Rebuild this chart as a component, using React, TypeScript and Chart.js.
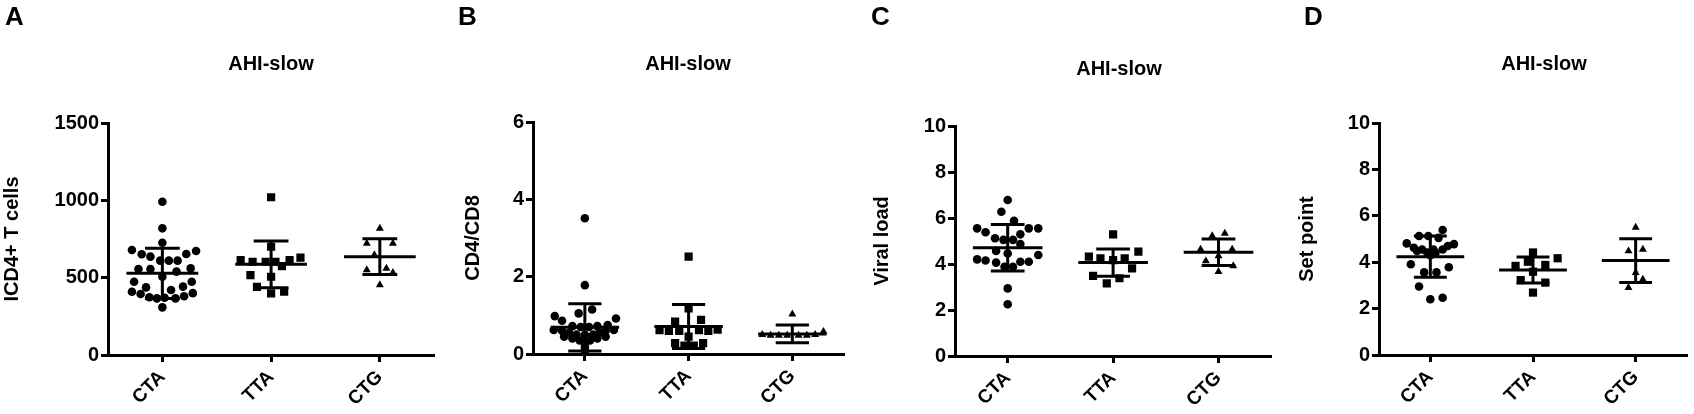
import React, { useEffect, useRef } from 'react';
import { Chart, registerables } from 'chart.js';

Chart.register(...registerables);

const categories = ['CTA', 'TTA', 'CTG'];
const panelTitle = 'AHI-slow';

// A: ICD4+ T cells
const aCtaValues = [991, 819, 726, 679, 672, 651, 636, 653, 610, 610, 610, 556, 556, 539, 560, 506, 474, 442, 474, 420, 437, 409, 394, 373, 366, 370, 366, 380, 400, 308];
const aCtaSpread = [0, 0, 0, -0.28, 0.31, -0.19, -0.11, 0.22, -0.02, 0.06, 0.14, -0.22, -0.11, 0.13, 0.26, 0, -0.26, 0.19, 0.27, 0.08, -0.15, -0.28, -0.2, -0.12, -0.05, 0.02, 0.12, 0.2, 0.28, 0];
const aTtaValues = [1020, 700, 614, 603, 603, 603, 614, 629, 575, 506, 517, 441, 399, 409];
const aTtaSpread = [0, 0, -0.28, -0.17, -0.05, 0.04, 0.17, 0.27, 0.1, 0, -0.19, -0.13, 0, 0.12];
const aCtgValues = [819, 722, 722, 647, 550, 560, 532, 453];
const aCtgSpread = [0, -0.12, 0.12, -0.05, -0.12, 0.06, 0.12, 0];
const aMeans = [528, 586, 636];
const aSds = [162, 151, 116];

// B: CD4/CD8
const bCtaValues = [3.51, 1.78, 1.15, 1.05, 0.98, 0.92, 0.86, 0.75, 0.72, 0.7, 0.7, 0.72, 0.62, 0.6, 0.62, 0.6, 0.55, 0.55, 0.5, 0.5, 0.5, 0.45, 0.45, 0.4, 0.4, 0.35, 0.35, 0.28, 0.18, 0.08];
const bCtaSpread = [0, 0, 0.07, -0.06, -0.29, 0.3, -0.22, 0.22, -0.12, -0.04, 0.04, 0.12, -0.3, -0.22, 0.28, 0.2, -0.15, 0.14, -0.08, 0, 0.08, -0.2, 0.2, -0.12, 0.12, -0.05, 0.05, 0, 0, 0];
const bTtaValues = [2.52, 1.18, 0.88, 0.84, 0.62, 0.6, 0.6, 0.62, 0.6, 0.63, 0.45, 0.28, 0.22, 0.22, 0.28];
const bTtaSpread = [0, 0, 0.12, -0.13, -0.28, -0.19, -0.09, 0.1, 0.19, 0.28, 0, -0.13, -0.04, 0.05, 0.14];
const bCtgValues = [1.03, 0.5, 0.48, 0.48, 0.48, 0.48, 0.48, 0.5, 0.58];
const bCtgSpread = [0, -0.29, -0.21, -0.13, -0.05, 0.06, 0.14, 0.22, 0.3];
const bMeans = [0.69, 0.71, 0.52];
const bSds = [0.61, 0.57, 0.23];

// C: Viral load
const cCtaValues = [6.78, 6.27, 5.88, 5.55, 5.55, 5.55, 5.38, 5.12, 5.05, 5.05, 5.29, 4.87, 4.57, 4.46, 4.39, 4.2, 4.15, 4.06, 4.1, 4.1, 3.88, 3.88, 2.94, 2.25];
const cCtaSpread = [0, -0.06, 0.06, -0.29, 0.2, 0.29, -0.21, -0.12, -0.04, 0.05, 0.12, 0.12, -0.11, 0, 0.29, -0.29, -0.21, -0.11, 0.12, 0.2, -0.03, 0.05, 0, 0];
const cTtaValues = [5.29, 4.54, 4.32, 4.25, 4.17, 4.25, 3.81, 3.48, 3.16, 3.38];
const cTtaSpread = [0, 0.24, -0.23, -0.12, 0, 0.11, 0.18, -0.19, -0.06, 0.06];
const cCtgValues = [5.33, 5.22, 4.64, 4.64, 4.35, 4.13, 3.92, 3.67];
const cCtgSpread = [0.06, -0.06, -0.17, 0.13, 0, -0.12, 0.14, 0];
const cMeans = [4.71, 4.06, 4.51];
const cSds = [1.01, 0.59, 0.58];

// D: Set point
const dCtaValues = [5.39, 5.13, 5.13, 5.05, 4.81, 4.78, 4.62, 4.55, 4.55, 4.55, 4.7, 4.42, 4.4, 4.48, 4.3, 3.91, 3.78, 3.56, 3.56, 2.95, 2.4, 2.47];
const dCtaSpread = [0.12, -0.11, -0.02, 0.08, -0.23, 0.23, -0.16, -0.08, 0.03, 0.12, 0.17, -0.03, 0.05, -0.13, 0, -0.19, 0.18, -0.06, 0.06, -0.11, 0, 0.12];
const dTtaValues = [4.42, 4.17, 4.02, 3.84, 3.88, 3.59, 3.23, 3.12, 2.69];
const dTtaSpread = [0, 0.24, -0.05, -0.17, 0.12, 0, -0.12, 0.12, 0];
const dCtgValues = [5.5, 4.48, 4.55, 3.55, 3.26, 2.9];
const dCtgSpread = [0, -0.07, 0.07, 0, 0.07, -0.07];
const dMeans = [4.24, 3.66, 4.07];
const dSds = [0.89, 0.56, 0.94];

const FONT = "'Liberation Sans', Arial, sans-serif";
const INK = '#000';
const pointStyles = ['circle', 'rect', 'triangle'];
const pointRadii = [4.3, 5.8, 4.6];

interface PanelSpec {
  letter: string;
  yTitle: string;
  yMax: number;
  yStep: number;
  values: number[][];
  spread: number[][];
  means: number[];
  sds: number[];
  left: number;
  width: number;
  padLeft: number;
  padRight: number;
  padTop: number;
  yWidth: number;
  xHeight: number;
  letterX: number;
  titleX: number;
  titleY: number;
}

const panels: PanelSpec[] = [
  {
    letter: 'A', yTitle: 'ICD4+ T cells', yMax: 1500, yStep: 500,
    values: [aCtaValues, aTtaValues, aCtgValues], spread: [aCtaSpread, aTtaSpread, aCtgSpread],
    means: aMeans, sds: aSds,
    left: 0, width: 440, padLeft: 0, padRight: 5, padTop: 123, yWidth: 108, xHeight: 59,
    letterX: 5, titleX: 271, titleY: 70,
  },
  {
    letter: 'B', yTitle: 'CD4/CD8', yMax: 6, yStep: 2,
    values: [bCtaValues, bTtaValues, bCtgValues], spread: [bCtaSpread, bTtaSpread, bCtgSpread],
    means: bMeans, sds: bSds,
    left: 420, width: 430, padLeft: 41, padRight: 5, padTop: 122, yWidth: 72, xHeight: 60,
    letterX: 458, titleX: 688, titleY: 70,
  },
  {
    letter: 'C', yTitle: 'Viral load', yMax: 10, yStep: 2,
    values: [cCtaValues, cTtaValues, cCtgValues], spread: [cCtaSpread, cTtaSpread, cCtgSpread],
    means: cMeans, sds: cSds,
    left: 840, width: 437, padLeft: 30, padRight: 5, padTop: 126, yWidth: 85, xHeight: 58,
    letterX: 871, titleX: 1119, titleY: 75,
  },
  {
    letter: 'D', yTitle: 'Set point', yMax: 10, yStep: 2,
    values: [dCtaValues, dTtaValues, dCtgValues], spread: [dCtaSpread, dTtaSpread, dCtgSpread],
    means: dMeans, sds: dSds,
    left: 1260, width: 434, padLeft: 35, padRight: 7, padTop: 123, yWidth: 84, xHeight: 59,
    letterX: 1304, titleX: 1544, titleY: 70,
  },
];

const HEIGHT = 414;

const Panel: React.FC<{ spec: PanelSpec }> = ({ spec }) => {
  const canvasRef = useRef<HTMLCanvasElement | null>(null);

  useEffect(() => {
    if (!canvasRef.current) return;
    const ctx = canvasRef.current.getContext('2d');
    if (!ctx) return;

    const datasets = spec.values.map((vals, c) => ({
      label: categories[c],
      data: vals.map((v, i) => ({ x: c + 1 + spec.spread[c][i], y: v })),
      pointStyle: pointStyles[c],
      pointRadius: pointRadii[c],
      backgroundColor: INK,
      borderColor: INK,
      borderWidth: 0,
      showLine: false,
    }));

    // mean with SD bars, drawn over the points like Prism does
    const meanSd = {
      id: 'meanSd',
      afterDatasetsDraw(chart: any) {
        const { ctx: g, scales } = chart;
        const x = scales.x;
        const y = scales.y;
        g.save();
        g.strokeStyle = INK;
        g.lineWidth = 3;
        spec.means.forEach((m: number, i: number) => {
          const c = i + 1;
          const xc = x.getPixelForValue(c);
          const yM = y.getPixelForValue(m);
          const yHi = y.getPixelForValue(m + spec.sds[i]);
          const yLo = y.getPixelForValue(m - spec.sds[i]);
          g.beginPath();
          g.moveTo(x.getPixelForValue(c - 0.33), yM);
          g.lineTo(x.getPixelForValue(c + 0.33), yM);
          g.moveTo(xc, yHi);
          g.lineTo(xc, yLo);
          g.moveTo(x.getPixelForValue(c - 0.16), yHi);
          g.lineTo(x.getPixelForValue(c + 0.16), yHi);
          g.moveTo(x.getPixelForValue(c - 0.16), yLo);
          g.lineTo(x.getPixelForValue(c + 0.16), yLo);
          g.stroke();
        });
        g.restore();
      },
    };

    const labels = {
      id: 'panelLabels',
      afterDraw(chart: any) {
        const g = chart.ctx;
        g.save();
        g.fillStyle = INK;
        g.textBaseline = 'alphabetic';
        g.textAlign = 'left';
        g.font = `bold 26px ${FONT}`;
        g.fillText(spec.letter, spec.letterX - spec.left, 25);
        g.textAlign = 'center';
        g.font = `bold 20px ${FONT}`;
        g.fillText(panelTitle, spec.titleX - spec.left, spec.titleY);
        g.restore();
      },
    };

    const chart = new Chart(ctx, {
      type: 'scatter',
      data: { datasets },
      plugins: [meanSd, labels],
      options: {
        animation: false,
        responsive: false,
        maintainAspectRatio: false,
        layout: { padding: { left: spec.padLeft, right: spec.padRight, top: spec.padTop, bottom: 0 } },
        plugins: {
          legend: { display: false },
          tooltip: { enabled: false },
        },
        scales: {
          x: {
            type: 'linear',
            min: 0.5,
            max: 3.5,
            afterBuildTicks: (scale: any) => {
              scale.ticks = categories.map((_, i) => ({ value: i + 1 }));
            },
            afterFit: (scale: any) => {
              scale.height = spec.xHeight;
              scale.paddingLeft = 0;
              scale.paddingRight = 0;
            },
            ticks: {
              autoSkip: false,
              minRotation: 45,
              maxRotation: 45,
              padding: 4,
              color: INK,
              font: { family: FONT, size: 19, weight: 'bold' },
              callback: (v: any) => categories[Math.round(Number(v)) - 1] ?? '',
            },
            grid: {
              display: true,
              drawOnChartArea: false,
              drawTicks: true,
              tickLength: 7,
              tickWidth: 3,
              tickColor: INK,
            },
            border: { display: true, color: INK, width: 3 },
          },
          y: {
            min: 0,
            max: spec.yMax,
            afterFit: (scale: any) => {
              scale.width = spec.yWidth;
              scale.paddingTop = 0;
              scale.paddingBottom = 0;
            },
            ticks: {
              stepSize: spec.yStep,
              padding: 2,
              color: INK,
              font: { family: FONT, size: 20, weight: 'bold' },
              callback: (v: any) => String(v),
            },
            title: {
              display: true,
              text: spec.yTitle,
              color: INK,
              padding: 0,
              font: { family: FONT, size: 20, weight: 'bold' },
            },
            grid: {
              display: true,
              drawOnChartArea: false,
              drawTicks: true,
              tickLength: 7,
              tickWidth: 3,
              tickColor: INK,
            },
            border: { display: true, color: INK, width: 3 },
          },
        },
      } as any,
    });

    return () => {
      chart.destroy();
    };
  }, [spec]);

  return (
    <canvas
      ref={canvasRef}
      width={spec.width}
      height={HEIGHT}
      style={{ position: 'absolute', left: spec.left, top: 0, width: spec.width, height: HEIGHT }}
    />
  );
};

const App: React.FC = () => {
  return (
    <div style={{ position: 'absolute', left: 0, top: 0, width: 1694, height: HEIGHT, background: '#fff', overflow: 'hidden' }}>
      {panels.map((p) => (
        <Panel key={p.letter} spec={p} />
      ))}
    </div>
  );
};

export default App;
